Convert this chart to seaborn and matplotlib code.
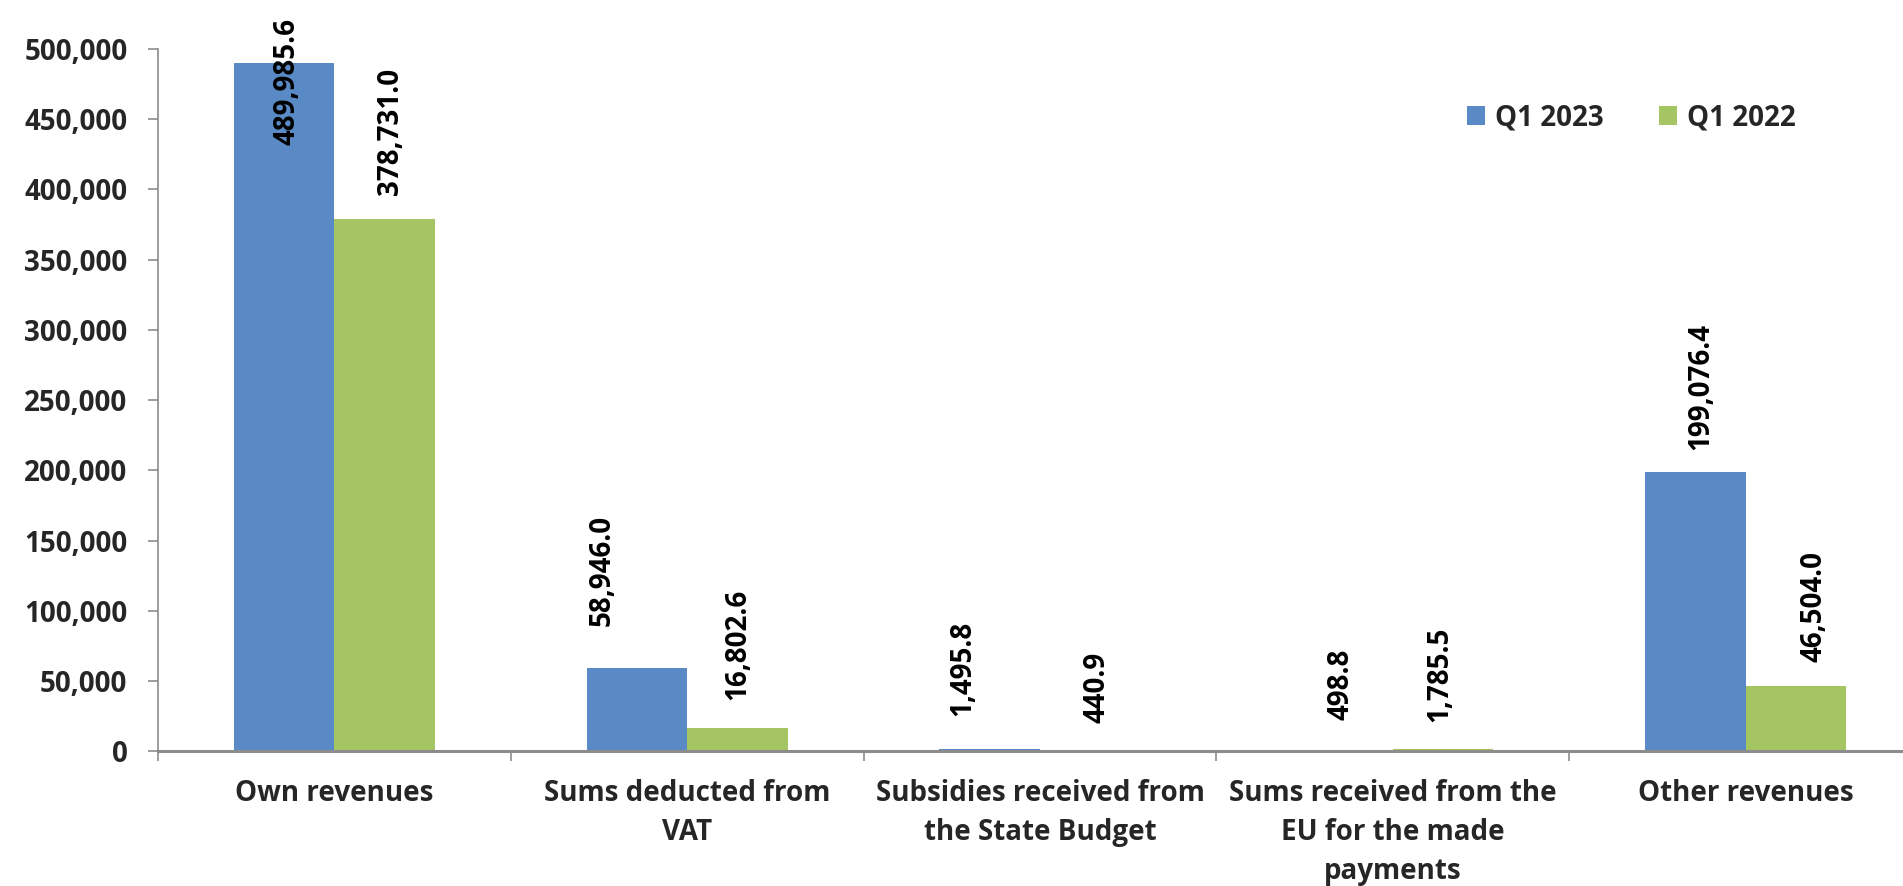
import matplotlib
matplotlib.use("Agg")
import matplotlib.pyplot as plt
import matplotlib.ticker as mticker
from matplotlib.patches import Patch
import pandas as pd
import seaborn as sns

# Revenue categories (x axis)
categories = [
    "Own revenues",
    "Sums deducted from\nVAT",
    "Subsidies received from\nthe State Budget",
    "Sums received from the\nEU for the made\npayments",
    "Other revenues",
]
periods = ["Q1 2023", "Q1 2022"]

# Amounts per category
q1_2023 = [489985.6, 58946.0, 1495.8, 498.8, 199076.4]
q1_2022 = [378731.0, 16802.6, 440.9, 1785.5, 46504.0]

y_ticks = list(range(0, 500001, 50000))

# Colours of the two series
colors = {"Q1 2023": "#5A8AC6", "Q1 2022": "#A5C462"}

# Fine placement of the rotated value labels (dx, extra dy) in pixels
label_shift = {
    "Q1 2023": [(3, 0), (-35, 16), (-27, 7), (-2, 5), (5, -4)],
    "Q1 2022": [(6, -2), (0, 2), (7, 2), (-3, 1), (18, -2)],
}

df = pd.DataFrame({
    "category": categories * 2,
    "period": [periods[0]] * len(categories) + [periods[1]] * len(categories),
    "value": q1_2023 + q1_2022,
})
series_values = {"Q1 2023": q1_2023, "Q1 2022": q1_2022}

sns.set_theme(style="white")
plt.rcParams["font.family"] = ["Open Sans", "DejaVu Sans"]

DPI = 100
fig = plt.figure(figsize=(19.03, 8.86), dpi=DPI, facecolor="white")
ax = fig.add_axes([0.083, 0.152, 0.927, 0.793])

sns.barplot(
    data=df, x="category", y="value", hue="period",
    order=categories, hue_order=periods, palette=colors,
    width=0.57, gap=0, linewidth=0, saturation=1,
    legend=False, ax=ax,
)

ax.set_xlim(-0.5, len(categories) - 0.5)
ax.set_ylim(0, 500000)
ax.set_xlabel("")
ax.set_ylabel("")

# y axis
ax.set_yticks(y_ticks)
ax.yaxis.set_major_formatter(mticker.StrMethodFormatter("{x:,.0f}"))
ax.tick_params(axis="y", which="major", left=True, length=7, width=1.2,
               color="#8C8C8C", pad=15, labelsize=20)
for lbl in ax.get_yticklabels():
    lbl.set_fontweight("bold")

# x axis: labels at centres, tick marks at category boundaries
ax.set_xticks(range(len(categories)))
ax.set_xticklabels(categories, fontsize=20, fontweight="bold",
                   linespacing=1.45, ha="center", va="top")
ax.set_xticks([i - 0.5 for i in range(len(categories) + 1)], minor=True)
ax.tick_params(axis="x", which="major", length=0, pad=20)
ax.tick_params(axis="x", which="minor", bottom=True, length=7, width=1.2,
               color="#8C8C8C")

for side in ("top", "right"):
    ax.spines[side].set_visible(False)
ax.spines["left"].set_color("#8C8C8C")
ax.spines["left"].set_linewidth(1.2)
ax.spines["bottom"].set_color("#8C8C8C")
ax.spines["bottom"].set_linewidth(2.2)
ax.grid(False)

# Rotated value labels above the bars
annotations = []
for container, period in zip(ax.containers, periods):
    for bar, val, (dx, dy) in zip(container, series_values[period],
                                  label_shift[period]):
        x = bar.get_x() + bar.get_width() / 2
        ann = ax.annotate(
            f"{val:,.1f}", xy=(x, val), xytext=(dx, 26 + dy),
            textcoords="offset pixels", rotation=90, ha="center", va="bottom",
            fontsize=20, fontweight="bold", color="black",
            annotation_clip=False,
        )
        annotations.append(ann)

# Keep labels inside the figure: a label that would run off the top is
# pulled down so that it sits just below the upper edge.
fig.canvas.draw()
renderer = fig.canvas.get_renderer()
fig_h = fig.bbox.height
top_limit = fig_h - 18
for ann in annotations:
    bb = ann.get_window_extent(renderer)
    if bb.y1 > top_limit:
        dx, dy = ann.xyann
        ann.xyann = (dx, dy - (bb.y1 - top_limit))

# Legend
handles = [Patch(facecolor=colors[p], edgecolor="none", label=p) for p in periods]
fig.legend(
    handles=handles, loc="center left", bbox_to_anchor=(0.771, 0.867),
    ncol=2, frameon=False, prop={"weight": "bold", "size": 20},
    handlelength=0.65, handleheight=0.65, handletextpad=0.35,
    columnspacing=2.0, borderpad=0, borderaxespad=0,
)

fig.savefig("out.png", dpi=DPI, facecolor="white")
